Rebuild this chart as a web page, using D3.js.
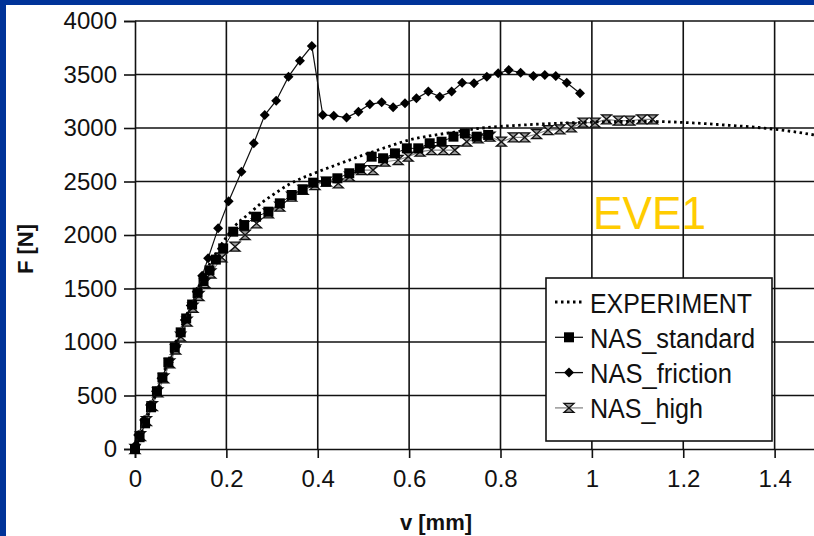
<!DOCTYPE html>
<html>
<head>
<meta charset="utf-8">
<style>
    body { margin: 0; background: #003399; }
    svg { display: block; }
    text { font-family: "Liberation Sans", Arial, sans-serif; }
</style>
</head>
<body>
<svg id="chart" width="814" height="536"></svg>

<script src="https://d3js.org/d3.v7.min.js"></script>
<script>
    // tick values (the 1.6 end of the axis is cut off by the picture edge)
    var xTicks = [0, 0.2, 0.4, 0.6, 0.8, 1, 1.2, 1.4];
    var yTicks = [0, 500, 1000, 1500, 2000, 2500, 3000, 3500, 4000];

    // series, [v mm, F N]
    var experiment = [[0, 0], [0.02, 220], [0.05, 560], [0.08, 900], [0.1, 1120], [0.13, 1420],
        [0.15, 1620], [0.18, 1850], [0.2, 1980], [0.22, 2090], [0.25, 2200], [0.28, 2310],
        [0.3, 2370], [0.34, 2480], [0.4, 2590], [0.45, 2670], [0.5, 2748], [0.55, 2820],
        [0.6, 2888], [0.65, 2930], [0.7, 2962], [0.75, 2995], [0.8, 3015], [0.85, 3028],
        [0.9, 3040], [0.95, 3048], [1.0, 3055], [1.05, 3060], [1.1, 3062], [1.15, 3060],
        [1.2, 3052], [1.25, 3040], [1.3, 3025], [1.35, 3010], [1.4, 2988], [1.45, 2960], [1.5, 2925]];

    var nasStandard = [[0, 0], [0.01, 110], [0.022, 240], [0.035, 390], [0.048, 540], [0.06, 670],
        [0.073, 810], [0.087, 950], [0.1, 1090], [0.112, 1220], [0.125, 1350], [0.137, 1460],
        [0.15, 1570], [0.163, 1670], [0.177, 1770], [0.193, 1875], [0.215, 2031], [0.239, 2093],
        [0.265, 2171], [0.292, 2218], [0.317, 2296], [0.343, 2374], [0.367, 2427], [0.39, 2489],
        [0.418, 2498], [0.443, 2530], [0.469, 2577], [0.492, 2623], [0.518, 2732], [0.543, 2717],
        [0.569, 2763], [0.595, 2810], [0.62, 2810], [0.645, 2857], [0.671, 2872], [0.697, 2919],
        [0.722, 2950], [0.748, 2919], [0.773, 2935]];

    var nasFriction = [[0, 0], [0.002, 37], [0.007, 131], [0.02, 270], [0.033, 411], [0.046, 540],
        [0.058, 661], [0.074, 810], [0.09, 956], [0.1, 1080], [0.109, 1206], [0.122, 1340],
        [0.135, 1470], [0.147, 1620], [0.16, 1782], [0.182, 2062], [0.205, 2315], [0.233, 2592],
        [0.26, 2857], [0.284, 3121], [0.309, 3255], [0.336, 3480], [0.361, 3629], [0.387, 3766],
        [0.411, 3121], [0.435, 3115], [0.463, 3097], [0.489, 3153], [0.514, 3221], [0.54, 3240],
        [0.565, 3193], [0.591, 3231], [0.616, 3277], [0.642, 3340], [0.667, 3293], [0.693, 3340],
        [0.716, 3423], [0.742, 3418], [0.77, 3480], [0.795, 3511], [0.818, 3542], [0.844, 3517],
        [0.872, 3486], [0.897, 3495], [0.921, 3486], [0.945, 3423], [0.974, 3324]];

    var nasHigh = [[0, 0], [0.012, 120], [0.025, 260], [0.038, 400], [0.05, 530], [0.063, 660],
        [0.076, 800], [0.089, 930], [0.1, 1050], [0.114, 1190], [0.127, 1320], [0.14, 1430],
        [0.153, 1550], [0.166, 1640], [0.19, 1790], [0.219, 1891], [0.241, 2000], [0.266, 2109],
        [0.292, 2203], [0.317, 2265], [0.343, 2358], [0.368, 2421], [0.394, 2467], [0.419, 2498],
        [0.445, 2483], [0.47, 2545], [0.496, 2607], [0.521, 2607], [0.547, 2685], [0.576, 2701],
        [0.598, 2732], [0.624, 2779], [0.649, 2794], [0.675, 2794], [0.7, 2794], [0.726, 2872],
        [0.751, 2903], [0.777, 2919], [0.802, 2872], [0.828, 2913], [0.853, 2913], [0.879, 2944],
        [0.904, 2981], [0.93, 2988], [0.955, 3006], [0.981, 3050], [1.007, 3050], [1.032, 3081],
        [1.058, 3068], [1.083, 3068], [1.109, 3081], [1.133, 3081]];

    var legendLabels = ["EXPERIMENT", "NAS_standard", "NAS_friction", "NAS_high"];

    var svg = d3.select("#chart");

    // blue frame + white panel
    svg.append("rect").attr("width", 814).attr("height", 536).attr("fill", "#003399");
    svg.append("rect").attr("x", 6).attr("y", 5).attr("width", 808).attr("height", 531).attr("fill", "#fff");

    var x = d3.scaleLinear().domain([0, 1.6]).range([135, 866]),
        y = d3.scaleLinear().domain([0, 4000]).range([449, 21]);

    // grid
    var grid = svg.append("g").attr("stroke", "#111").attr("stroke-width", 1.6);
    grid.selectAll(".vg").data(xTicks.slice(1)).enter().append("line")
        .attr("x1", d => x(d)).attr("x2", d => x(d))
        .attr("y1", y(0)).attr("y2", y(4000));
    grid.selectAll(".hg").data(yTicks.slice(1)).enter().append("line")
        .attr("x1", x(0)).attr("x2", x(1.6))
        .attr("y1", d => y(d)).attr("y2", d => y(d));

    // axes
    var xAxis = svg.append("g").attr("transform", "translate(0," + y(0) + ")")
        .call(d3.axisBottom(x).tickValues(xTicks).tickSize(9).tickPadding(12).tickFormat(d => String(d)));
    var yAxis = svg.append("g").attr("transform", "translate(" + x(0) + ",0)")
        .call(d3.axisLeft(y).tickValues(yTicks).tickSize(11).tickPadding(7).tickFormat(d => String(d)));

    [xAxis, yAxis].forEach(function (a) {
        a.selectAll("path").attr("stroke", "#111").attr("stroke-width", 1.6);
        a.selectAll("line").attr("stroke", "#111").attr("stroke-width", 1.6);
        a.selectAll("text").attr("font-size", 24).attr("fill", "#111")
            .style("font-family", "'Liberation Sans', Arial, sans-serif");
    });

    // axis titles
    svg.append("text").attr("x", 436).attr("y", 530).attr("text-anchor", "middle")
        .attr("font-size", 22).attr("font-weight", "bold").attr("fill", "#111").text("v [mm]");
    svg.append("text").attr("transform", "translate(33,249) rotate(-90)").attr("text-anchor", "middle")
        .attr("font-size", 22).attr("font-weight", "bold").attr("fill", "#111").text("F [N]");

    var line = d3.line().x(d => x(d[0])).y(d => y(d[1]));
    var smooth = d3.line().x(d => x(d[0])).y(d => y(d[1])).curve(d3.curveMonotoneX);

    var plot = svg.append("g");

    // marker shapes
    var diamond = "M0,-5L5,0L0,5L-5,0Z",
        square = "M-5,-5H5V5H-5Z",
        hourglass = "M-5,-4.5H5L-5,4.5H5Z";

    // NAS_high (grey line, hourglass)
    plot.append("path").datum(nasHigh).attr("d", line)
        .attr("fill", "none").attr("stroke", "#888").attr("stroke-width", 1.2);
    plot.selectAll(".hi").data(nasHigh).enter().append("path")
        .attr("transform", d => "translate(" + x(d[0]) + "," + y(d[1]) + ")")
        .attr("d", hourglass).attr("fill", "#999").attr("stroke", "#111").attr("stroke-width", 1.3);

    // NAS_standard
    plot.append("path").datum(nasStandard).attr("d", line)
        .attr("fill", "none").attr("stroke", "#111").attr("stroke-width", 1);
    plot.selectAll(".st").data(nasStandard).enter().append("path")
        .attr("transform", d => "translate(" + x(d[0]) + "," + y(d[1]) + ")")
        .attr("d", square).attr("fill", "#000");

    // NAS_friction
    plot.append("path").datum(nasFriction).attr("d", line)
        .attr("fill", "none").attr("stroke", "#111").attr("stroke-width", 1.2);
    plot.selectAll(".fr").data(nasFriction).enter().append("path")
        .attr("transform", d => "translate(" + x(d[0]) + "," + y(d[1]) + ")")
        .attr("d", diamond).attr("fill", "#000");

    // EXPERIMENT dotted
    plot.append("path").datum(experiment).attr("d", smooth)
        .attr("fill", "none").attr("stroke", "#000").attr("stroke-width", 2.8)
        .attr("stroke-dasharray", "2.5,3.5");

    // EVE1 label
    svg.append("text").attr("x", 593).attr("y", 229).attr("font-size", 47)
        .attr("textLength", 113).attr("lengthAdjust", "spacingAndGlyphs")
        .attr("fill", "#FFCC00").text("EVE1");

    // legend
    var lg = svg.append("g");
    lg.append("rect").attr("x", 546).attr("y", 278).attr("width", 226).attr("height", 163)
        .attr("fill", "#fff").attr("stroke", "#111").attr("stroke-width", 1.6);
    var widths = [162, 165, 142, 113];
    legendLabels.forEach(function (name, i) {
        var by = 312.5 + i * 35.3, cy = by - 10.5;
        var row = lg.append("g");
        if (i === 0) {
            row.append("line").attr("x1", 555).attr("x2", 583).attr("y1", cy).attr("y2", cy)
                .attr("stroke", "#000").attr("stroke-width", 2.8).attr("stroke-dasharray", "2.5,3.5");
        } else {
            row.append("line").attr("x1", 555).attr("x2", 583).attr("y1", cy).attr("y2", cy)
                .attr("stroke", i === 3 ? "#888" : "#111").attr("stroke-width", 1.3);
            row.append("path").attr("transform", "translate(569," + cy + ")")
                .attr("d", i === 1 ? square : i === 2 ? diamond : hourglass)
                .attr("fill", i === 3 ? "#999" : "#000")
                .attr("stroke", i === 3 ? "#111" : "none").attr("stroke-width", 1.3);
        }
        row.append("text").attr("x", 590).attr("y", by).attr("font-size", 27)
            .attr("textLength", widths[i]).attr("lengthAdjust", "spacingAndGlyphs")
            .attr("fill", "#111").text(name);
    });
</script>
</body>
</html>
